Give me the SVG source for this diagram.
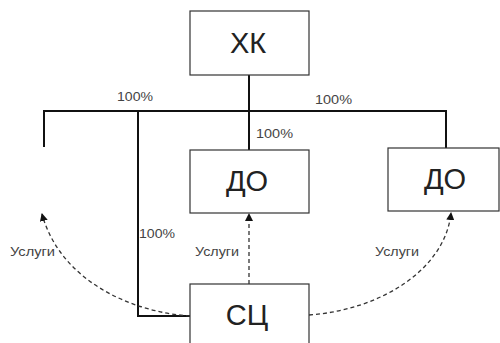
<svg xmlns="http://www.w3.org/2000/svg" width="500" height="343" viewBox="0 0 500 343">
<style>
.box{fill:#fff;stroke:#333;stroke-width:1.2}
.big{font-family:"Liberation Sans",Arial,sans-serif;font-size:29px;fill:#222;text-anchor:middle}
.lbl{font-family:"Liberation Sans",Arial,sans-serif;font-size:12px;fill:#444}
.own{fill:none;stroke:#111;stroke-width:2}
.svc{fill:none;stroke:#333;stroke-width:1.3;stroke-dasharray:4 3}
</style>
<defs>
<marker id="ah" markerWidth="8" markerHeight="8" refX="7" refY="4" orient="auto" markerUnits="userSpaceOnUse">
<path d="M0,0 L8,4 L0,8 Z" fill="#111"/>
</marker>
</defs>
<rect width="500" height="343" fill="#fff"/>
<g id="connectors">
<path class="own" d="M249,75 V150"/>
<path class="own" d="M44,147 V111 H446 V148"/>
<path class="own" d="M138,111 V316 H190"/>
<path class="svc" d="M190,316 C130,312 60,280 42,214" marker-end="url(#ah)"/>
<path class="svc" d="M249,284 V214" marker-end="url(#ah)"/>
<path class="svc" d="M309,315 C380,310 445,270 451,213" marker-end="url(#ah)"/>
<text class="lbl" x="117" y="101" textLength="36" lengthAdjust="spacingAndGlyphs">100%</text>
<text class="lbl" x="315" y="104" textLength="37" lengthAdjust="spacingAndGlyphs">100%</text>
<text class="lbl" x="256" y="138" textLength="37" lengthAdjust="spacingAndGlyphs">100%</text>
<text class="lbl" x="139" y="238" textLength="36" lengthAdjust="spacingAndGlyphs">100%</text>
<text class="lbl" x="10" y="256" textLength="45" lengthAdjust="spacingAndGlyphs">Услуги</text>
<text class="lbl" x="195" y="256" textLength="44" lengthAdjust="spacingAndGlyphs">Услуги</text>
<text class="lbl" x="375" y="256" textLength="44" lengthAdjust="spacingAndGlyphs">Услуги</text>
</g>
<g id="xk">
<rect class="box" x="190" y="11" width="119" height="64"/>
<text class="big" x="248" y="53">ХК</text>
</g>
<g id="do1">
<rect class="box" x="190" y="150" width="119" height="63"/>
<text class="big" x="247" y="191">ДО</text>
</g>
<g id="do2">
<rect class="box" x="388" y="148" width="111" height="63"/>
<text class="big" x="445" y="189">ДО</text>
</g>
<g id="sc">
<rect class="box" x="190" y="284" width="119" height="70"/>
<text class="big" x="247" y="325">СЦ</text>
</g>
</svg>
